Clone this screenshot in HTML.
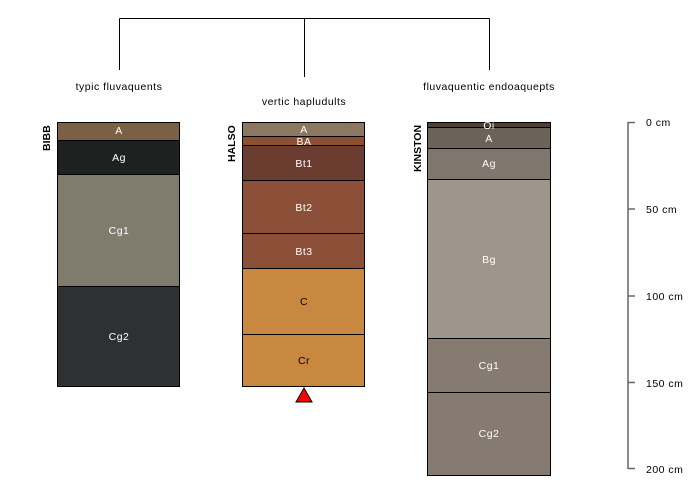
<!DOCTYPE html><html><head><style>body{margin:0;background:#fff;overflow:hidden}svg{display:block}</style></head><body>
<svg width="700" height="500" xmlns="http://www.w3.org/2000/svg" font-family="Liberation Sans, sans-serif" font-size="10.5" letter-spacing="0.5">
<g stroke="#000" stroke-width="1" fill="none">
<path d="M119.5 18.5H489.5M119.5 18.5V70M304.5 18.5V77M489.5 18.5V70"/>
</g>
<g text-anchor="middle" fill="#000">
<text x="119" y="90">typic fluvaquents</text>
<text x="304" y="105">vertic hapludults</text>
<text x="489" y="90">fluvaquentic endoaquepts</text>
</g>
<g stroke="#000" stroke-width="1">
<rect x="57.5" y="122.5" width="122" height="18" fill="#7a6045"/>
<rect x="57.5" y="140.5" width="122" height="34" fill="#1f2120"/>
<rect x="57.5" y="174.5" width="122" height="112" fill="#7f7b6d"/>
<rect x="57.5" y="286.5" width="122" height="100" fill="#2f3032"/>
<rect x="242.5" y="122.5" width="122" height="14" fill="#8c7760"/>
<rect x="242.5" y="136.5" width="122" height="9" fill="#8c5030"/>
<rect x="242.5" y="145.5" width="122" height="35" fill="#6a3d30"/>
<rect x="242.5" y="180.5" width="122" height="53" fill="#8c5038"/>
<rect x="242.5" y="233.5" width="122" height="35" fill="#8c5038"/>
<rect x="242.5" y="268.5" width="122" height="66" fill="#c88840"/>
<rect x="242.5" y="334.5" width="122" height="52" fill="#c88840"/>
<rect x="427.5" y="122.5" width="123" height="5" fill="#4d4035"/>
<rect x="427.5" y="127.5" width="123" height="21" fill="#6b6358"/>
<rect x="427.5" y="148.5" width="123" height="31" fill="#7f776d"/>
<rect x="427.5" y="179.5" width="123" height="159" fill="#9e968a"/>
<rect x="427.5" y="338.5" width="123" height="54" fill="#857b70"/>
<rect x="427.5" y="392.5" width="123" height="83" fill="#857b70"/>
<polygon points="304,388 296,402 312,402" fill="#f00"/>
</g>
<g text-anchor="middle" fill="#fff">
<text x="119" y="134">A</text><text x="119" y="161">Ag</text><text x="119" y="234">Cg1</text><text x="119" y="340">Cg2</text>
<text x="304" y="133">A</text><text x="304" y="145">BA</text><text x="304" y="167">Bt1</text><text x="304" y="211">Bt2</text><text x="304" y="255">Bt3</text>
<text x="304" y="305" fill="#000">C</text><text x="304" y="364" fill="#000">Cr</text>
<text x="489" y="129">Oi</text><text x="489" y="142">A</text><text x="489" y="167">Ag</text><text x="489" y="263">Bg</text><text x="489" y="369">Cg1</text><text x="489" y="437">Cg2</text>
</g>
<g font-weight="bold" fill="#000" letter-spacing="0">
<text transform="translate(50,151) rotate(-90)">BIBB</text>
<text transform="translate(235,162) rotate(-90)">HALSO</text>
<text transform="translate(421,172) rotate(-90)">KINSTON</text>
</g>
<g stroke="#666" stroke-width="1.5" fill="none">
<path d="M628 122V469M628 122.5H635M628 209H635M628 296H635M628 382.5H635M628 468.5H635"/>
</g>
<g fill="#000">
<text x="646" y="126">0 cm</text><text x="646" y="213">50 cm</text><text x="646" y="300">100 cm</text><text x="646" y="387">150 cm</text><text x="646" y="473">200 cm</text>
</g>
</svg>
</body></html>
